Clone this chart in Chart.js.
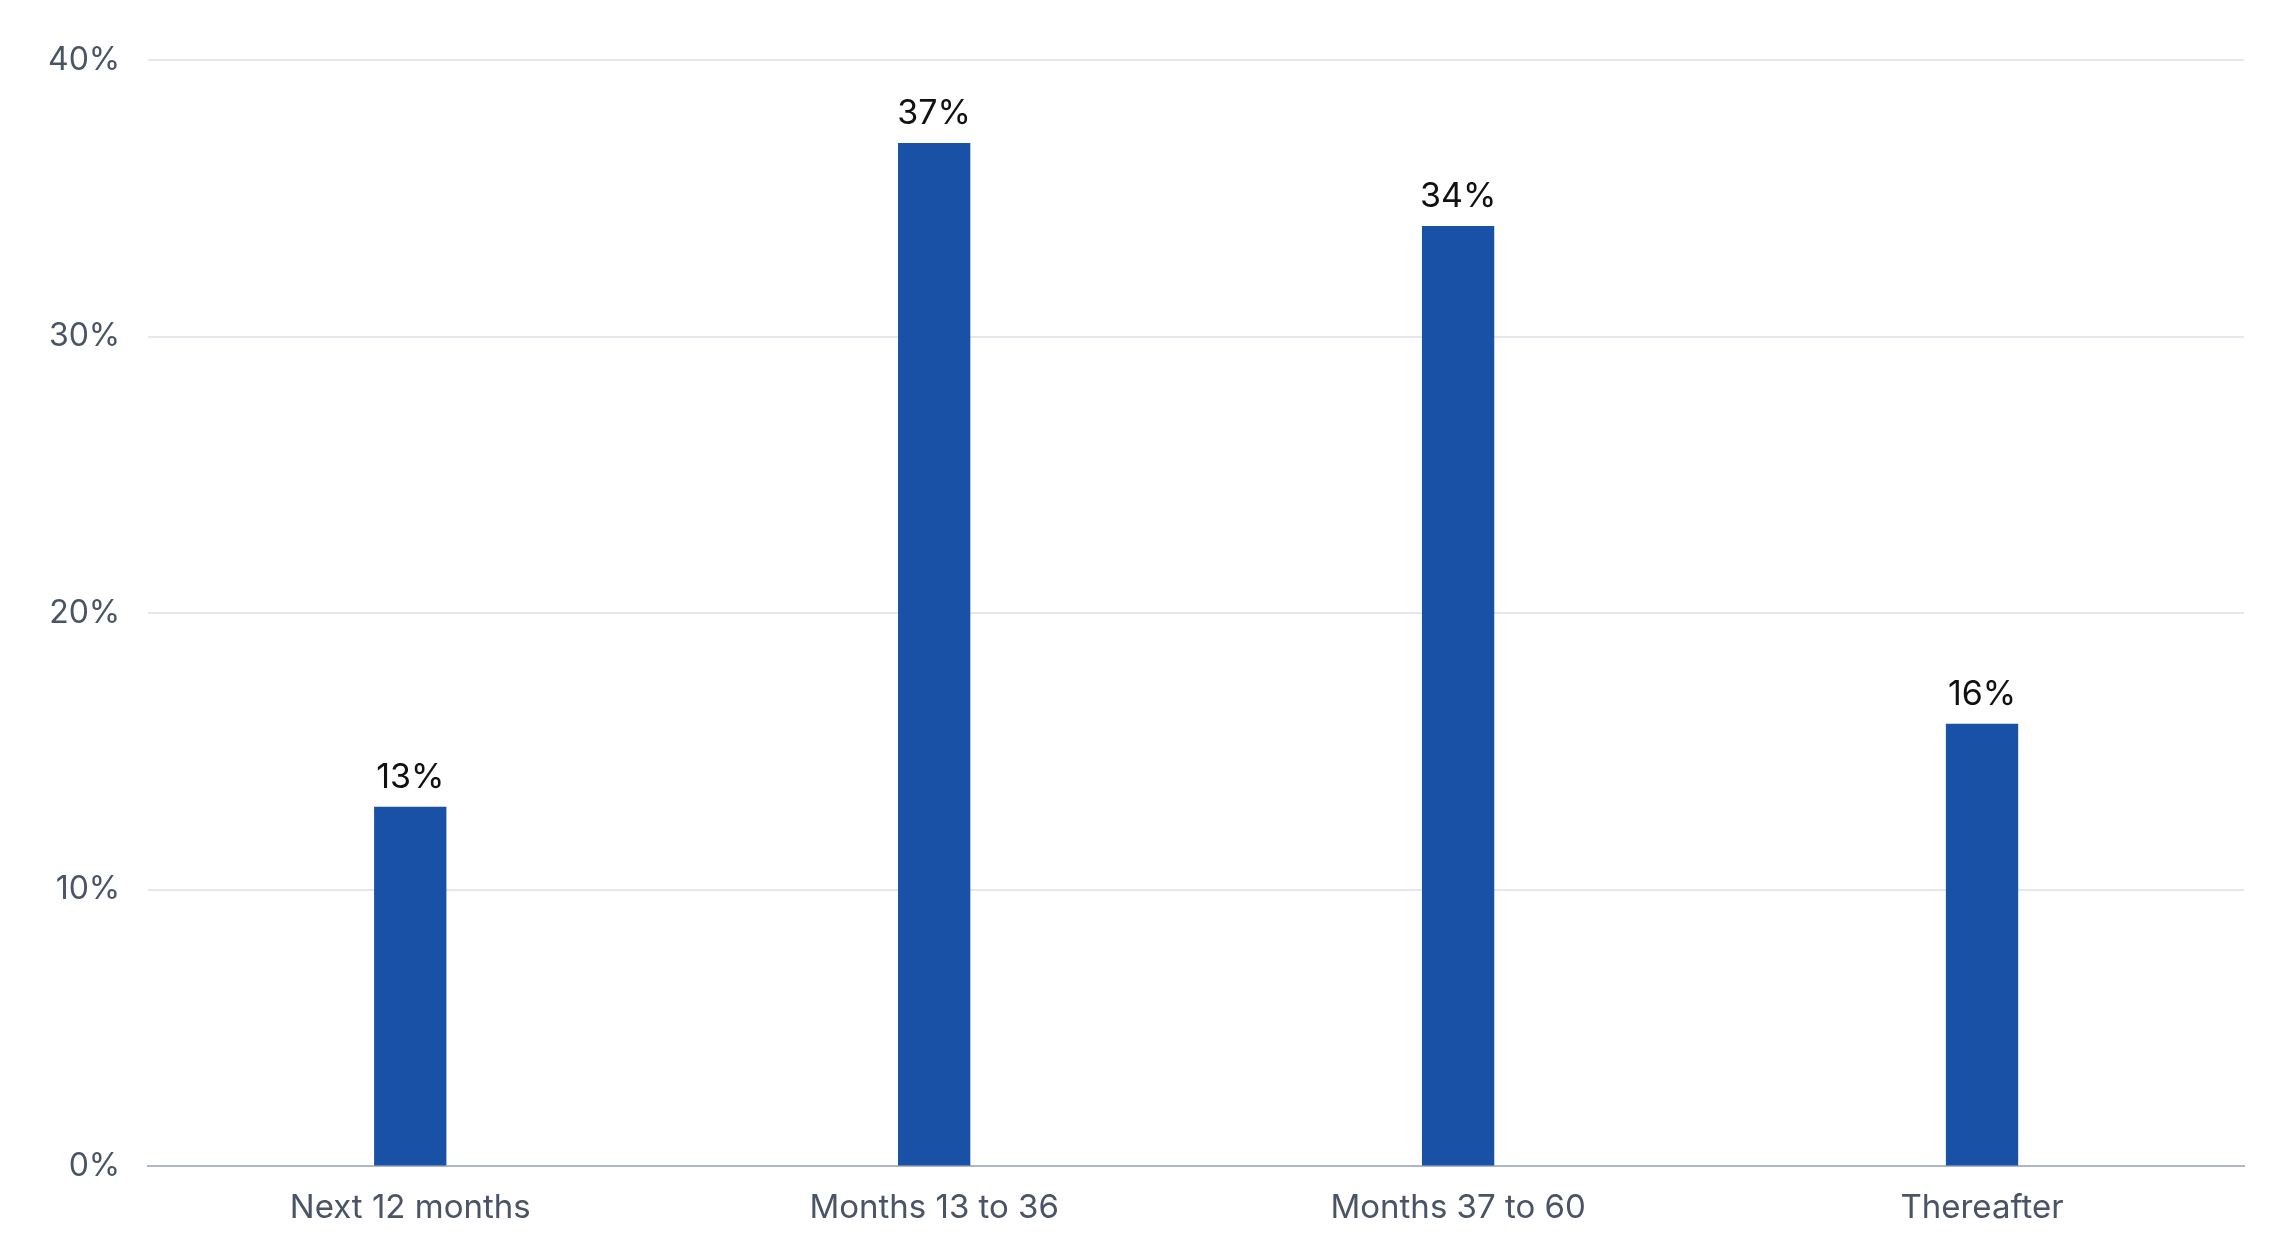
<!DOCTYPE html>
<html><head><meta charset="utf-8">
<script src="https://cdn.jsdelivr.net/npm/chart.js@4"></script>
<style>html,body{margin:0;padding:0;background:#fff}#wrap{width:2280px;height:1260px}</style>
</head><body><div id="wrap"><canvas id="c"></canvas></div>
<script>
const categories = ["Next 12 months","Months 13 to 36","Months 37 to 60","Thereafter"];
const values = [13,37,34,16];
const yTicks = [0,10,20,30,40];

const labelPlugin = {
  id:'lbl',
  afterDatasetsDraw(chart){
    const ctx=chart.ctx;
    chart.getDatasetMeta(0).data.forEach((b,i)=>{
      ctx.save();
      ctx.fillStyle='#111';
      ctx.font='34px Inter';
      ctx.textAlign='center';
      ctx.textBaseline='bottom';
      ctx.fillText(values[i]+'%', b.x, b.y-12);
      ctx.restore();
    });
  }
};
new Chart(document.getElementById('c'),{
  type:'bar',
  data:{labels:categories,datasets:[{data:values,backgroundColor:'#1851a6',barPercentage:0.138,categoryPercentage:1}]},
  options:{
    responsive:true,maintainAspectRatio:false,animation:false,
    layout:{padding:{left:20,right:36,top:60,bottom:10}},
    plugins:{legend:{display:false},tooltip:{enabled:false}},
    scales:{
      x:{grid:{display:false,drawTicks:false},border:{color:'#b0b6c3',width:2},
         ticks:{color:'#4a5466',font:{size:33,family:'Inter'},padding:22}},
      y:{min:0,max:40,afterBuildTicks(a){a.ticks=yTicks.map(v=>({value:v}));},
         grid:{color:'#e5e7ec',lineWidth:2,drawTicks:false},border:{display:false},
         ticks:{color:'#4a5466',font:{size:32,family:'Inter'},padding:28,callback:v=>v+'%'}}
    }
  },
  plugins:[labelPlugin]
});
</script></body></html>
